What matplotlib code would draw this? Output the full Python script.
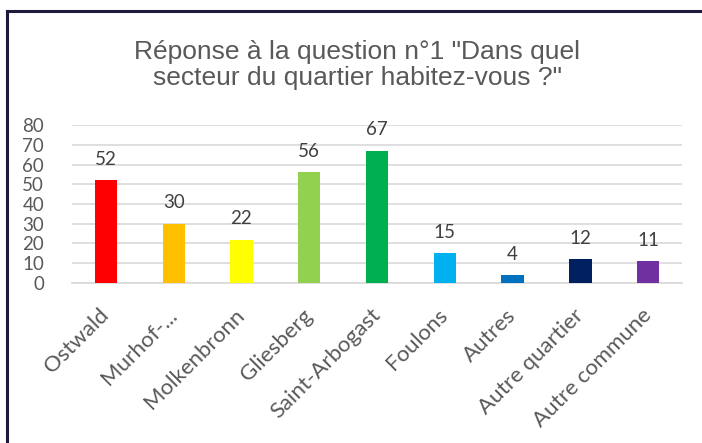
import matplotlib
matplotlib.use('Agg')
import matplotlib.pyplot as plt
from matplotlib.lines import Line2D

plt.rcParams['font.family'] = ['Lato', 'DejaVu Sans']

categories = ['Ostwald', 'Murhof-...', 'Molkenbronn', 'Gliesberg', 'Saint-Arbogast',
              'Foulons', 'Autres', 'Autre quartier', 'Autre commune']
values = [52, 30, 22, 56, 67, 15, 4, 12, 11]
colors = ['#FF0000', '#FFC000', '#FFFF00', '#92D050', '#00B050',
          '#00B0F0', '#0070C0', '#002060', '#7030A0']
yticks = [0, 10, 20, 30, 40, 50, 60, 70, 80]
title = 'Réponse à la question n°1 "Dans quel\nsecteur du quartier habitez-vous ?"'

text_color = '#595959'

fig = plt.figure(figsize=(7.02, 4.43), dpi=100)
ax = fig.add_axes([0.1026, 0.3612, 0.869, 0.3566])

x = range(len(categories))
bars = ax.bar(x, values, width=0.33, color=colors, zorder=3)

for b, v in zip(bars, values):
    ax.annotate(str(v), (b.get_x() + b.get_width() / 2, v),
                xytext=(0, 9), textcoords='offset points',
                ha='center', va='bottom', fontsize=13.5, color='#404040')

ax.set_ylim(0, 80)
ax.set_xlim(-0.5, len(categories) - 0.5)
ax.set_yticks(yticks)
ax.set_yticklabels([str(t) for t in yticks], fontsize=13.5, color=text_color)
ax.set_xticks(list(x))
ax.set_xticklabels(categories, fontsize=16, color=text_color,
                   rotation=45, ha='right', va='center', rotation_mode='anchor')
ax.tick_params(axis='both', length=0)
ax.tick_params(axis='y', pad=20)
ax.tick_params(axis='x', pad=21)

ax.grid(axis='y', color='#d9d9d9', linewidth=1.2, zorder=0)
for s in ['top', 'right', 'left']:
    ax.spines[s].set_visible(False)
ax.spines['bottom'].set_color('#d9d9d9')
ax.spines['bottom'].set_linewidth(1.2)

fig.text(0.509, 0.854, title, ha='center', va='center', fontsize=19,
         family='Liberation Sans', color=text_color, linespacing=1.12)

# frame lines (top and left) of the original chart area
fig.add_artist(Line2D([0.0105, 1.0], [0.976, 0.976], color='#1f1a3a', linewidth=2.2,
                      transform=fig.transFigure))
fig.add_artist(Line2D([0.0105, 0.0105], [0.0, 0.976], color='#1f1a3a', linewidth=2.2,
                      transform=fig.transFigure))

plt.savefig('out.png', dpi=100)
